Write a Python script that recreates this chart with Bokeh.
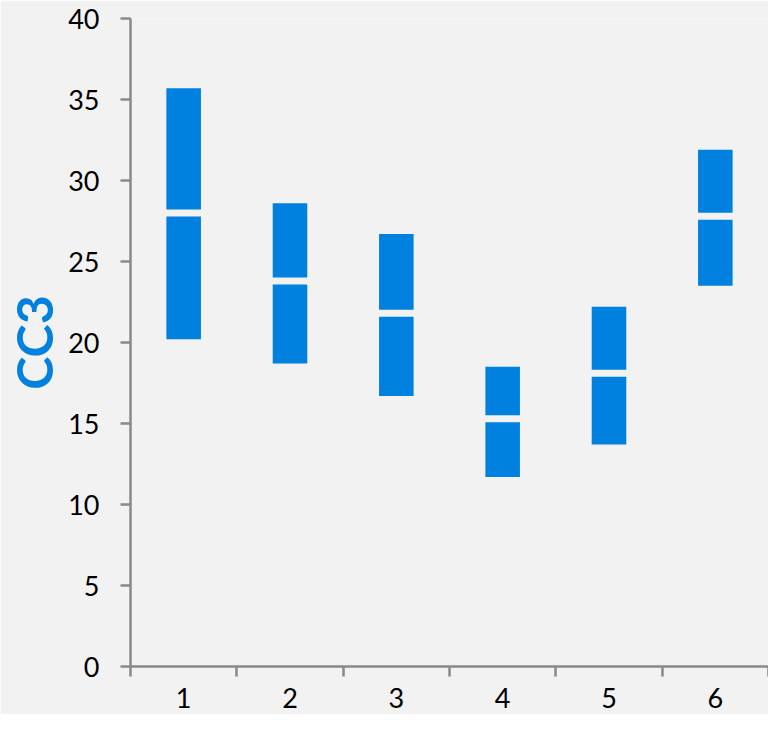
from bokeh.plotting import figure
from bokeh.models import FixedTicker, ColumnDataSource, Range1d
from bokeh.embed import file_html
from bokeh.resources import INLINE

# Data
groups = [1, 2, 3, 4, 5, 6]
lows = [20.2, 18.7, 16.7, 11.7, 13.7, 23.5]
highs = [35.7, 28.6, 26.7, 18.5, 22.2, 31.9]
mids = [28.0, 23.8, 21.8, 15.3, 18.1, 27.8]
y_ticks = [0, 5, 10, 15, 20, 25, 30, 35, 40]

BLUE = "#0080DF"
BG = "#F2F2F2"
AXIS = "#898989"

src = ColumnDataSource(dict(x=groups, low=lows, high=highs, mid=mids))

p = figure(width=768, height=714, output_backend="svg", toolbar_location=None,
           x_range=Range1d(0.5, 6.5), y_range=Range1d(0, 40),
           min_border_left=130, min_border_right=0, min_border_top=18,
           min_border_bottom=48)
p.background_fill_color = BG
p.border_fill_color = BG
p.outline_line_color = None
p.xgrid.visible = False
p.ygrid.visible = False

p.vbar(x="x", bottom="low", top="high", width=0.325, source=src,
       fill_color=BLUE, line_color=None)
p.rect(x="x", y="mid", width=0.36, height=7, height_units="screen", source=src,
       fill_color=BG, line_color=None)

# x axis: labels at centers, ticks at boundaries (minor ticks)
p.xaxis.ticker = FixedTicker(ticks=groups, minor_ticks=[g - 0.5 for g in groups] + [6.5])
p.xaxis.major_tick_out = 0
p.xaxis.major_tick_in = 0
p.xaxis.minor_tick_out = 10
p.xaxis.minor_tick_in = 0
p.xaxis.minor_tick_line_color = AXIS
p.xaxis.minor_tick_line_width = 2.5
p.xaxis.major_label_standoff = 11

p.yaxis.ticker = FixedTicker(ticks=y_ticks)
p.yaxis.major_tick_out = 10
p.yaxis.major_tick_in = 0
p.yaxis.minor_tick_out = 0
p.yaxis.minor_tick_in = 0
p.yaxis.major_label_standoff = 21
p.yaxis.axis_label = "CC3"
p.yaxis.axis_label_text_font = "Lato"
p.yaxis.axis_label_text_font_style = "bold"
p.yaxis.axis_label_text_font_size = "50px"
p.yaxis.axis_label_text_color = BLUE
p.yaxis.axis_label_standoff = 1

for ax in (p.xaxis, p.yaxis):
    ax.axis_line_color = AXIS
    ax.axis_line_width = 2.5
    ax.major_tick_line_color = AXIS
    ax.major_tick_line_width = 2.5
    ax.major_label_text_font = "Lato"
    ax.major_label_text_font_size = "27px"
    ax.major_label_text_color = "black"

open("out.html", "w").write(file_html(p, INLINE))
